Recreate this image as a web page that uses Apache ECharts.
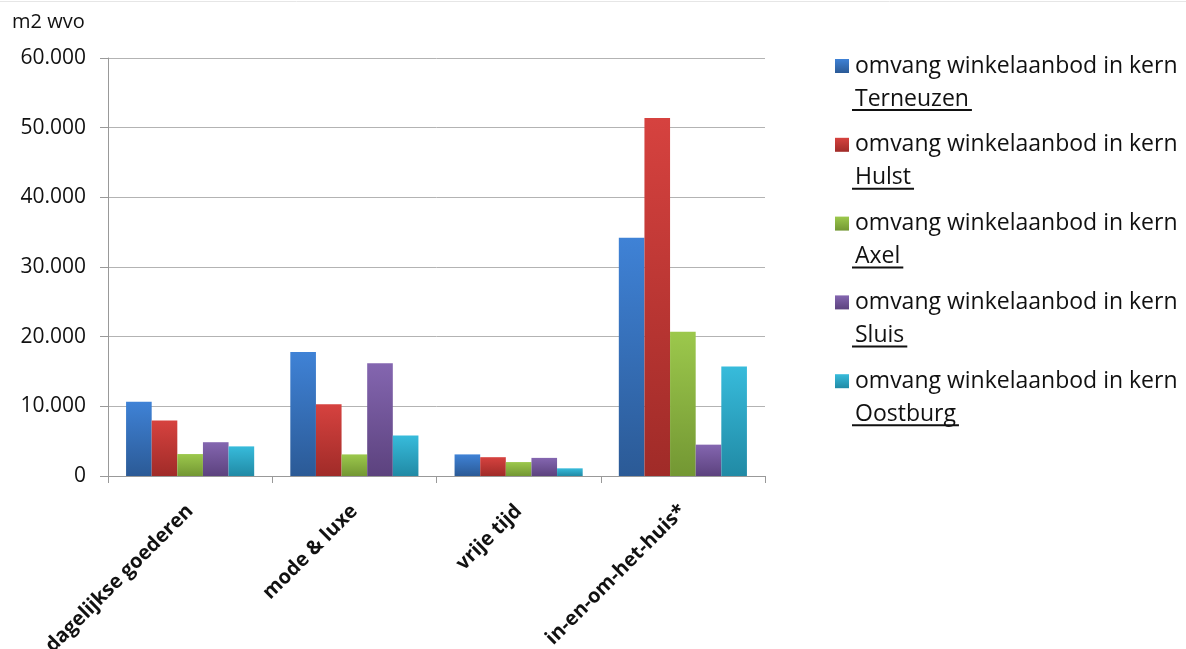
<!DOCTYPE html>
<html>
<head>
<meta charset="utf-8">
<script src="https://cdn.jsdelivr.net/npm/echarts@6/dist/echarts.min.js"></script>
<style>
  html, body { margin: 0; padding: 0; background: #fff; }
  #main { width: 1186px; height: 649px; }
</style>
</head>
<body>
<div id="main"></div>
<script>
var categories = ['dagelijkse goederen', 'mode & luxe', 'vrije tijd', 'in-en-om-het-huis*'];
var kernen = ['Terneuzen', 'Hulst', 'Axel', 'Sluis', 'Oostburg'];
var terneuzen = [10650, 17800, 3100, 34200];
var hulst = [7950, 10300, 2700, 51400];
var axel = [3150, 3100, 2000, 20700];
var sluis = [4850, 16200, 2600, 4500];
var oostburg = [4250, 5800, 1100, 15700];
var values = [terneuzen, hulst, axel, sluis, oostburg];

// top / bottom of each bar gradient
var colorsTop = ['#3f82d6', '#d6423f', '#9cc84c', '#8466b0', '#37bbdb'];
var colorsBottom = ['#2b5a96', '#a02b28', '#739733', '#5c427e', '#218aa5'];

var font = '"Open Sans", "DejaVu Sans", sans-serif';
var legendPrefix = 'omvang winkelaanbod in kern';

function nlNumber(v) {
  return String(v).replace(/\B(?=(\d{3})+(?!\d))/g, '.');
}

var chart = echarts.init(document.getElementById('main'));

var series = kernen.map(function (k, i) {
  return {
    name: legendPrefix + ' ' + k,
    type: 'bar',
    data: values[i],
    barGap: '0%',
    barCategoryGap: '22%',
    itemStyle: {
      color: new echarts.graphic.LinearGradient(0, 0, 0, 1, [
        { offset: 0, color: colorsTop[i] },
        { offset: 1, color: colorsBottom[i] }
      ])
    }
  };
});

// legend drawn by hand: icon on the first line, kern name underlined on the second
var measure = document.createElement('canvas').getContext('2d');
measure.font = '23px ' + font;
var legendGraphic = [];
kernen.forEach(function (k, i) {
  var y = 66 + i * 78.8;
  var w = measure.measureText(k).width;
  legendGraphic.push({
    type: 'rect',
    shape: { x: 835, y: y - 7, width: 14, height: 14 },
    style: {
      fill: new echarts.graphic.LinearGradient(0, 0, 0, 1, [
        { offset: 0, color: colorsTop[i] },
        { offset: 1, color: colorsBottom[i] }
      ])
    }
  });
  legendGraphic.push({
    type: 'text',
    x: 855, y: y,
    style: { text: legendPrefix, font: '23px ' + font, fill: '#111', verticalAlign: 'middle' }
  });
  legendGraphic.push({
    type: 'text',
    x: 855, y: y + 33,
    style: { text: k, font: '23px ' + font, fill: '#111', verticalAlign: 'middle' }
  });
  legendGraphic.push({
    type: 'line',
    shape: { x1: 852, y1: y + 44, x2: 858 + w, y2: y + 44 },
    style: { stroke: '#111', lineWidth: 2 }
  });
});

var option = {
  animation: false,
  backgroundColor: '#fff',
  color: colorsTop,
  textStyle: { fontFamily: font },
  grid: { left: 108, right: 421, top: 58, bottom: 173, outerBoundsMode: 'none', containLabel: false },
  graphic: [{
    type: 'line',
    shape: { x1: 0, y1: 1.5, x2: 1186, y2: 1.5 },
    style: { stroke: '#e6e6e6', lineWidth: 1 }
  }, {
    type: 'text',
    left: 12,
    top: 12,
    style: { text: 'm2 wvo', font: '20px ' + font, fill: '#111' }
  }].concat(legendGraphic),
  xAxis: {
    type: 'category',
    data: categories,
    axisLine: { lineStyle: { color: '#999', width: 1 } },
    axisTick: { show: true, length: 7, lineStyle: { color: '#999' } },
    axisLabel: {
      rotate: 45,
      interval: 0,
      fontFamily: font,
      fontSize: 20,
      fontWeight: 'bold',
      color: '#111',
      margin: 32
    }
  },
  yAxis: {
    type: 'value',
    min: 0,
    max: 60000,
    interval: 10000,
    axisLine: { show: true, lineStyle: { color: '#999', width: 1 } },
    axisTick: { show: true, length: 8, lineStyle: { color: '#999' } },
    splitLine: { lineStyle: { color: '#b3b3b3', width: 1 } },
    axisLabel: {
      formatter: nlNumber,
      fontFamily: font,
      fontSize: 21,
      color: '#111',
      margin: 22
    }
  },
  series: series
};
chart.setOption(option);
</script>
</body>
</html>
